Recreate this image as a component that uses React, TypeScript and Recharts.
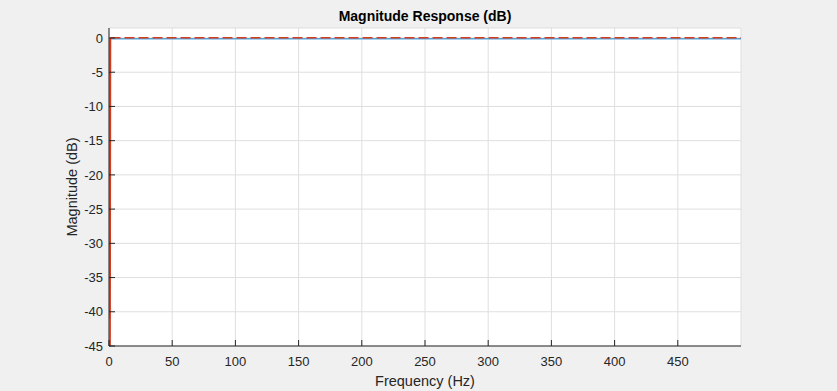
import { CartesianGrid, Line, LineChart, XAxis, YAxis } from "recharts";

// frequency grid (Hz) and magnitudes (dB) for the two responses
const designHz = [0, 0.4, 250, 500];
const designDb = [-41, -0.1, -0.1, -0.1];
const referenceHz = [0, 0.8, 1.2, 250, 500];
const referenceDb = [-60, -60, 0.05, 0.05, 0.05];

const xTicks = [0, 50, 100, 150, 200, 250, 300, 350, 400, 450];
const yTicks = [-45, -40, -35, -30, -25, -20, -15, -10, -5, 0];

const font = "'Liberation Sans', Arial, Helvetica, sans-serif";
const axisColor = "#262626";

export default function App() {
  const design = designHz.map((f, i) => ({ f, db: designDb[i] }));
  const reference = referenceHz.map((f, i) => ({ f, db: referenceDb[i] }));
  // the steep edge is drawn solid, the passband dashed
  const referenceEdge = reference.slice(0, 3);
  const referencePass = reference.slice(2);

  return (
    <div style={{ position: "absolute", left: 0, top: 0, width: 837, height: 391, background: "#f0f0f0", fontFamily: font }}>
      <div
        style={{
          position: "absolute",
          left: 109,
          top: 8,
          width: 632,
          textAlign: "center",
          fontSize: 14,
          lineHeight: "16px",
          fontWeight: "bold",
          color: "#000",
        }}
      >
        Magnitude Response (dB)
      </div>
      <LineChart width={837} height={391} margin={{ top: 28, right: 96, bottom: 0, left: 0 }}>
        <CartesianGrid xAxisId="b" yAxisId="l" fill="#ffffff" stroke="#dfdfdf" />
        <XAxis
          xAxisId="b"
          type="number"
          dataKey="f"
          domain={[0, 500]}
          ticks={xTicks}
          allowDataOverflow
          height={45}
          tickSize={-6}
          tickMargin={17}
          stroke={axisColor}
          tick={{ fill: axisColor, fontSize: 13, fontFamily: font }}
          label={{ value: "Frequency (Hz)", position: "insideBottom", offset: 5, fill: axisColor, fontSize: 14.5, fontFamily: font }}
        />
        <XAxis
          xAxisId="t"
          orientation="top"
          type="number"
          domain={[0, 500]}
          ticks={xTicks}
          allowDataOverflow
          height={0}
          tickSize={-6}
          tick={false}
          stroke={axisColor}
        />
        <YAxis
          yAxisId="l"
          type="number"
          domain={[-45, 1.46]}
          ticks={yTicks}
          allowDataOverflow
          width={109}
          tickSize={-6}
          tickMargin={12}
          stroke={axisColor}
          tick={{ fill: axisColor, fontSize: 13, fontFamily: font }}
          label={{ value: "Magnitude (dB)", angle: -90, position: "insideLeft", offset: 72, fill: axisColor, fontSize: 14.5, fontFamily: font, style: { textAnchor: "middle" } }}
        />
        <YAxis
          yAxisId="r"
          orientation="right"
          type="number"
          domain={[-45, 1.46]}
          ticks={yTicks}
          allowDataOverflow
          width={0}
          tickSize={-6}
          tick={false}
          stroke={axisColor}
        />
        <Line
          xAxisId="b"
          yAxisId="l"
          data={design}
          dataKey="db"
          type="linear"
          stroke="#4fa3e0"
          strokeWidth={1.5}
          dot={false}
          activeDot={false}
          isAnimationActive={false}
        />
        <Line
          xAxisId="b"
          yAxisId="l"
          data={referenceEdge}
          dataKey="db"
          type="linear"
          stroke="#d63a1f"
          strokeWidth={1.5}
          dot={false}
          activeDot={false}
          isAnimationActive={false}
        />
        <Line
          xAxisId="b"
          yAxisId="l"
          data={referencePass}
          dataKey="db"
          type="linear"
          stroke="#d63a1f"
          strokeWidth={1.5}
          strokeDasharray="10 4"
          dot={false}
          activeDot={false}
          isAnimationActive={false}
        />
      </LineChart>
    </div>
  );
}
